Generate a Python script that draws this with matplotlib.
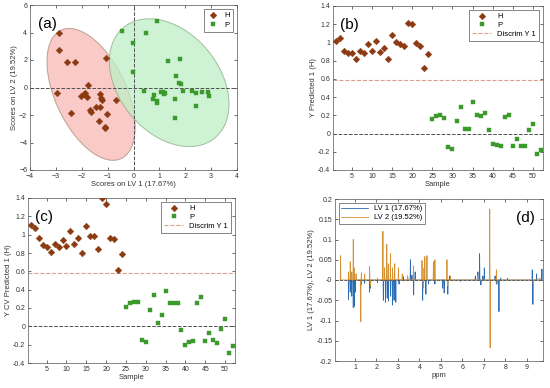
import numpy as np
import matplotlib
matplotlib.use("Agg")
import matplotlib.pyplot as plt

plt.rcParams['font.family'] = ['Liberation Sans', 'DejaVu Sans']

# --- (a) scores ---
h_lv1 = [-2.89, -2.89, -2.57, -2.26, -1.05, -1.75, -2.96, -2.03, -1.87, -1.81, -1.29, -1.26,
         -1.21, -0.69, -1.31, -1.46, -1.63, -2.43, -1.01, -1.33, -1.10, -1.10, -1.92, -1.68]
h_lv2 = [3.94, 2.73, 1.88, 1.83, 2.12, 0.18, -0.38, -0.62, -0.38, -0.67, -0.50, -0.79,
         -0.91, -0.91, -1.39, -1.44, -1.76, -1.88, -1.95, -2.41, -2.85, -2.95, -0.50, -1.65]
p_lv1 = [-0.46, 0.47, 0.92, -0.03, -0.01, 1.32, 1.80, 1.64, 1.75, 1.82, 1.90, 0.41, 0.79, 0.74,
         0.90, 0.90, 1.05, 1.13, 1.19, 1.60, 1.60, 2.27, 2.42, 2.42, 2.64, 2.89, 2.93, 1.22]
p_lv2 = [4.11, 3.94, 4.86, 3.21, 1.15, 1.93, 2.05, 0.84, 0.35, 0.23, -0.25, -0.23, -0.52, -0.84,
         -0.98, -1.10, -0.31, -0.31, -0.47, -0.86, -2.20, -0.25, -0.42, -1.35, -0.31, -0.35, -0.60, -0.38]
# confidence ellipses: centre and covariance-like matrix
h_center = [-1.64, -0.50]
h_cov = [[2.90, -4.06], [-4.06, 23.0]]
p_center = [1.38, 0.35]
p_cov = [[5.34, -3.6], [-3.6, 21.6]]

# --- (b), (c) predictions ---
sample_h = np.arange(1, 25)
sample_p = np.arange(25, 53)
pred_h = [1.02, 1.05, 0.91, 0.885, 0.88, 0.82, 0.91, 0.88, 0.98, 0.91, 1.02, 0.89,
          0.94, 0.815, 1.08, 1.00, 0.98, 0.96, 1.215, 1.20, 0.99, 0.96, 0.72, 0.87]
pred_p = [0.16, 0.19, 0.20, 0.17, -0.15, -0.165, 0.14, 0.29, 0.055, 0.055, 0.345, 0.20, 0.195, 0.23,
          0.035, -0.11, -0.125, -0.14, 0.18, 0.20, -0.14, -0.055, -0.14, -0.14, 0.035, 0.10, -0.225, -0.185]
cv_h = [1.10, 1.07, 0.96, 0.89, 0.87, 0.81, 0.90, 0.86, 0.94, 0.88, 1.04, 0.90,
        0.96, 0.80, 1.09, 0.98, 0.98, 0.84, 1.40, 1.33, 0.96, 0.95, 0.62, 0.79]
cv_p = [0.21, 0.25, 0.265, 0.27, -0.15, -0.175, 0.18, 0.34, 0.04, 0.12, 0.39, 0.25, 0.25, 0.26,
        -0.04, -0.20, -0.17, -0.165, 0.26, 0.315, -0.155, -0.07, -0.145, -0.18, -0.025, 0.085, -0.29, -0.215]
discrim = 0.585

# --- (d) loadings (peak positions in ppm and heights) ---
lv1_ppm = [0.70, 0.78, 0.85, 0.92, 0.97, 1.02, 1.30, 1.45, 1.68, 1.72, 2.05, 2.32, 2.42, 2.50, 2.56,
           2.66, 2.75, 2.82, 2.90, 3.05, 3.25, 3.45, 3.58, 3.65, 3.73, 3.80, 4.15, 4.22, 4.30, 4.42,
           4.72, 5.08, 5.15, 5.32, 5.40, 5.90, 6.60, 6.72, 6.80, 6.86, 6.95, 7.02, 7.52, 7.58, 7.70,
           7.78, 8.10, 9.25, 9.28, 9.45, 9.70]
lv1_val = [-0.048, -0.03, -0.04, -0.068, -0.065, -0.03, -0.012, -0.008, -0.03, -0.02, -0.006, -0.05,
           -0.055, -0.045, -0.052, -0.04, -0.062, -0.05, -0.055, -0.01, 0.008, 0.01, 0.05, 0.012,
           -0.037, 0.02, -0.05, 0.03, -0.035, -0.01, -0.01, -0.02, -0.032, -0.035, 0.01, -0.003,
           0.01, 0.02, 0.065, -0.012, 0.01, 0.03, 0.01, -0.01, -0.078, 0.005, 0.004, 0.025, -0.06,
           0.015, 0.027]
lv2_ppm = [0.33, 0.70, 0.78, 0.85, 0.92, 0.97, 1.05, 1.27, 1.30, 1.45, 1.68, 1.72, 2.05, 2.30, 2.38,
           2.48, 2.55, 2.65, 2.75, 2.85, 3.02, 3.20, 3.45, 3.72, 4.12, 4.18, 4.25, 4.35, 4.65, 4.72,
           5.28, 5.32, 5.45, 6.70, 7.27, 7.29, 7.58, 7.62, 9.30, 9.60]
lv2_val = [0.06, 0.02, 0.045, 0.02, 0.10, 0.03, 0.015, -0.103, 0.018, 0.015, 0.033, -0.015, 0.005,
           0.12, 0.03, 0.088, 0.04, 0.065, 0.03, 0.04, 0.03, 0.015, 0.01, 0.035, 0.048, -0.02, 0.058,
           0.06, 0.045, 0.05, 0.05, -0.015, 0.01, 0.01, 0.175, -0.167, 0.025, -0.01, -0.01, 0.005]

c_h = '#8B3A12'
c_p = '#3C9A2C'
c_txt = '#333333'
c_disc = '#D9A08C'
c_zero = '#505050'
c_blue = '#2A6DB5'
c_orange = '#D49235'
fs_tick = 5
fs_lab = 5.5
fs_panel = 11

fig = plt.figure(figsize=(5.5, 3.88), dpi=100)


def style(ax):
    ax.tick_params(direction='in', length=2, width=0.5, labelsize=fs_tick, colors=c_txt,
                   top=True, right=True, pad=2)
    for s in ax.spines.values():
        s.set_linewidth(0.5)
        s.set_color('#555555')


def ellipse(ax, center, cov, face, edge):
    t = np.linspace(0, 2 * np.pi, 200)
    L = np.linalg.cholesky(np.array(cov))
    pts = np.array(center)[:, None] + L @ np.vstack([np.cos(t), np.sin(t)])
    ax.fill(pts[0], pts[1], facecolor=face, edgecolor=edge, lw=0.7, alpha=0.75, zorder=1)


# (a)
ax = fig.add_axes([30 / 550, 1 - 170 / 388, 207 / 550, 165 / 388])
ellipse(ax, h_center, h_cov, '#F7B9B5', '#A88A70')
ellipse(ax, p_center, p_cov, '#BDF0C6', '#8FA885')
ax.axhline(0, color=c_zero, ls='--', lw=0.7, zorder=2)
ax.axvline(0, color=c_zero, ls='--', lw=0.7, zorder=2)
ax.plot(h_lv1, h_lv2, 'D', color=c_h, ms=3.4, mew=0.3, label='H', zorder=3)
ax.plot(p_lv1, p_lv2, 's', color=c_p, ms=3.1, mew=0.3, label='P', zorder=3)
ax.set_xlim(-4, 4)
ax.set_ylim(-6, 6)
ax.set_xticks(range(-4, 5))
ax.set_yticks(range(-6, 7, 2))
ax.set_xlabel('Scores on LV 1 (17.67%)', fontsize=fs_lab, color=c_txt, labelpad=1)
ax.set_ylabel('Scores on LV 2 (19.52%)', fontsize=fs_lab, color=c_txt, labelpad=1)
ax.text(0.04, 0.86, '(a)', transform=ax.transAxes, fontsize=fs_panel)
ax.legend(loc='upper right', fontsize=fs_lab, fancybox=False, edgecolor='#555555',
          handlelength=1.5, borderpad=0.4, labelspacing=0.3, framealpha=1).get_frame().set_linewidth(0.5)
style(ax)


def pred_panel(rect, yh, yp, ylabel, tag):
    ax = fig.add_axes(rect)
    ax.plot(sample_h, yh, 'D', color=c_h, ms=3.4, mew=0.3, label='H', zorder=3)
    ax.plot(sample_p, yp, 's', color=c_p, ms=3.1, mew=0.3, label='P', zorder=3)
    ax.axhline(discrim, color=c_disc, ls='--', lw=0.8, label='Discrim Y 1')
    ax.axhline(0, color=c_zero, ls='--', lw=0.7)
    ax.set_xlim(0.3, 52.5)
    ax.set_ylim(-0.4, 1.4)
    ax.set_xticks(range(5, 51, 5))
    yt = np.round(np.arange(-0.4, 1.41, 0.2), 1)
    ax.set_yticks(yt)
    ax.set_yticklabels(['%g' % v for v in yt])
    ax.set_xlabel('Sample', fontsize=fs_lab, color=c_txt, labelpad=1)
    ax.set_ylabel(ylabel, fontsize=fs_lab, color=c_txt, labelpad=1)
    ax.text(0.035, 0.86, tag, transform=ax.transAxes, fontsize=fs_panel)
    leg = ax.legend(loc='upper right', fontsize=fs_lab, fancybox=False, edgecolor='#555555',
                    handlelength=2.5, borderpad=0.4, labelspacing=0.2, framealpha=1)
    leg.get_frame().set_linewidth(0.5)
    style(ax)


pred_panel([333 / 550, 1 - 170 / 388, 210 / 550, 164 / 388], pred_h, pred_p, 'Y Predicted 1 (H)', '(b)')
pred_panel([28 / 550, 1 - 363 / 388, 207 / 550, 165 / 388], cv_h, cv_p, 'Y CV Predicted 1 (H)', '(c)')


# (d)
def sticks(ppm, val):
    ppm = np.asarray(ppm)
    val = np.asarray(val)
    o = np.argsort(ppm, kind='stable')
    x = np.column_stack([ppm[o] - 0.012, ppm[o], ppm[o] + 0.012]).ravel()
    y = np.column_stack([np.zeros(len(o)), val[o], np.zeros(len(o))]).ravel()
    return x, y


ax = fig.add_axes([335 / 550, 1 - 361 / 388, 208 / 550, 162 / 388])
x1, y1 = sticks(lv1_ppm, lv1_val)
x2, y2 = sticks(lv2_ppm, lv2_val)
ax.plot(x1, y1, color=c_blue, lw=0.6, label='LV 1 (17.67%)')
ax.plot(x2, y2, color=c_orange, lw=0.6, label='LV 2 (19.52%)')
ax.axhline(0, color=c_zero, ls='--', lw=0.6)
ax.set_xlim(0.07, 9.75)
ax.set_ylim(-0.2, 0.2)
ax.set_xticks(range(1, 10))
yt = np.round(np.arange(-0.2, 0.201, 0.05), 2)
ax.set_yticks(yt)
ax.set_yticklabels(['%g' % v for v in yt])
ax.set_xlabel('ppm', fontsize=fs_lab, color=c_txt, labelpad=1)
ax.set_ylabel('LV 1 (17.67%), LV 2 (19.52%)', fontsize=fs_lab, color=c_txt, labelpad=1)
ax.text(0.87, 0.86, '(d)', transform=ax.transAxes, fontsize=fs_panel)
leg = ax.legend(loc='upper left', fontsize=fs_lab, fancybox=False, edgecolor='#555555',
                handlelength=3.5, borderpad=0.3, labelspacing=0.2, framealpha=1)
leg.get_frame().set_linewidth(0.5)
style(ax)

fig.savefig('out.png', dpi=100)
